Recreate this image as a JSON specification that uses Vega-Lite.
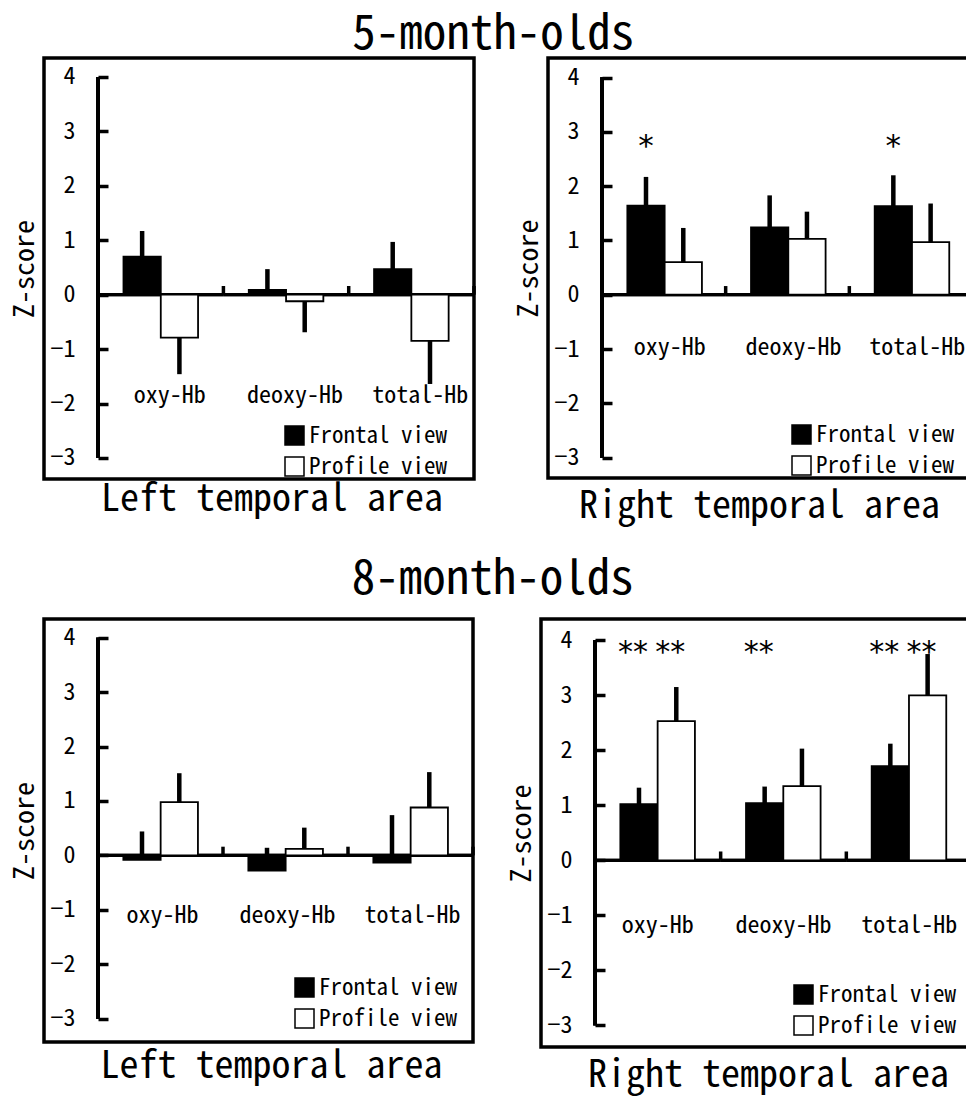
{
  "$schema": "https://vega.github.io/schema/vega-lite/v6.json",
  "background": "white",
  "padding": {"left": 9, "top": 11, "right": 0, "bottom": 0},
  "config": {
    "font": "Noto Sans Mono CJK JP, Noto Sans CJK JP, monospace",
    "view": {"stroke": "black", "strokeWidth": 3.5},
    "axisY": {"offset": -54, "domain": false, "grid": false, "tickSize": -10, "tickWidth": 3.5, "tickColor": "black", "labelFontSize": 24, "labelColor": "black", "labelPadding": 33, "titleFontSize": 28, "titleFontWeight": "normal", "titleColor": "black", "titlePadding": 10, "format": "d"},
    "axisX": {"domain": false, "ticks": false, "grid": false, "labelAngle": 0, "labelFontSize": 24, "labelColor": "black", "labelPadding": 0, "labelBaseline": "middle", "labelOffset": 9},
    "legend": {"symbolType": "square", "symbolSize": 361, "symbolStrokeColor": "black", "symbolStrokeWidth": 1.5, "labelFontSize": 23, "labelColor": "black", "labelOffset": 3, "rowPadding": 6, "padding": 0},
    "title": {"fontSize": 47, "fontWeight": "normal", "color": "black", "anchor": "middle"}
  },
  "datasets": {
    "hb": [
      {"age": "5-month-olds", "area": "Left", "measure": "oxy-Hb", "view": "Frontal view", "mean": 0.70, "err": 1.17, "sig": ""},
      {"age": "5-month-olds", "area": "Left", "measure": "oxy-Hb", "view": "Profile view", "mean": -0.79, "err": -1.46, "sig": ""},
      {"age": "5-month-olds", "area": "Left", "measure": "deoxy-Hb", "view": "Frontal view", "mean": 0.09, "err": 0.47, "sig": ""},
      {"age": "5-month-olds", "area": "Left", "measure": "deoxy-Hb", "view": "Profile view", "mean": -0.12, "err": -0.69, "sig": ""},
      {"age": "5-month-olds", "area": "Left", "measure": "total-Hb", "view": "Frontal view", "mean": 0.47, "err": 0.97, "sig": ""},
      {"age": "5-month-olds", "area": "Left", "measure": "total-Hb", "view": "Profile view", "mean": -0.85, "err": -1.64, "sig": ""},
      {"age": "5-month-olds", "area": "Right", "measure": "oxy-Hb", "view": "Frontal view", "mean": 1.64, "err": 2.17, "sig": "*"},
      {"age": "5-month-olds", "area": "Right", "measure": "oxy-Hb", "view": "Profile view", "mean": 0.60, "err": 1.23, "sig": ""},
      {"age": "5-month-olds", "area": "Right", "measure": "deoxy-Hb", "view": "Frontal view", "mean": 1.24, "err": 1.83, "sig": ""},
      {"age": "5-month-olds", "area": "Right", "measure": "deoxy-Hb", "view": "Profile view", "mean": 1.03, "err": 1.53, "sig": ""},
      {"age": "5-month-olds", "area": "Right", "measure": "total-Hb", "view": "Frontal view", "mean": 1.63, "err": 2.20, "sig": "*"},
      {"age": "5-month-olds", "area": "Right", "measure": "total-Hb", "view": "Profile view", "mean": 0.97, "err": 1.68, "sig": ""},
      {"age": "8-month-olds", "area": "Left", "measure": "oxy-Hb", "view": "Frontal view", "mean": -0.08, "err": 0.44, "sig": ""},
      {"age": "8-month-olds", "area": "Left", "measure": "oxy-Hb", "view": "Profile view", "mean": 0.98, "err": 1.51, "sig": ""},
      {"age": "8-month-olds", "area": "Left", "measure": "deoxy-Hb", "view": "Frontal view", "mean": -0.28, "err": 0.14, "sig": ""},
      {"age": "8-month-olds", "area": "Left", "measure": "deoxy-Hb", "view": "Profile view", "mean": 0.12, "err": 0.51, "sig": ""},
      {"age": "8-month-olds", "area": "Left", "measure": "total-Hb", "view": "Frontal view", "mean": -0.13, "err": 0.74, "sig": ""},
      {"age": "8-month-olds", "area": "Left", "measure": "total-Hb", "view": "Profile view", "mean": 0.88, "err": 1.53, "sig": ""},
      {"age": "8-month-olds", "area": "Right", "measure": "oxy-Hb", "view": "Frontal view", "mean": 1.02, "err": 1.32, "sig": "**"},
      {"age": "8-month-olds", "area": "Right", "measure": "oxy-Hb", "view": "Profile view", "mean": 2.53, "err": 3.15, "sig": "**"},
      {"age": "8-month-olds", "area": "Right", "measure": "deoxy-Hb", "view": "Frontal view", "mean": 1.04, "err": 1.34, "sig": "**"},
      {"age": "8-month-olds", "area": "Right", "measure": "deoxy-Hb", "view": "Profile view", "mean": 1.35, "err": 2.03, "sig": ""},
      {"age": "8-month-olds", "area": "Right", "measure": "total-Hb", "view": "Frontal view", "mean": 1.71, "err": 2.12, "sig": "**"},
      {"age": "8-month-olds", "area": "Right", "measure": "total-Hb", "view": "Profile view", "mean": 3.00, "err": 3.75, "sig": "**"}
    ]
  },
  "spacing": 28,
  "resolve": {"scale": {"fill": "independent"}, "legend": {"fill": "independent"}},
  "vconcat": [
    {
      "title": {"text": "5-month-olds", "offset": -3},
      "spacing": 35,
      "resolve": {"scale": {"fill": "independent"}, "legend": {"fill": "independent"}},
      "hconcat": [
        {
          "width": 430, "height": 421,
          "title": {"text": "Left temporal area", "orient": "bottom", "fontSize": 38, "dx": 13, "offset": 2},
          "data": {"name": "hb"},
          "transform": [{"filter": "datum.age === '5-month-olds' && datum.area === 'Left'"}],
          "layer": [
            {"mark": {"type": "bar", "color": "black"},
             "encoding": {"x": {"field": "measure", "type": "nominal", "sort": ["oxy-Hb", "deoxy-Hb", "total-Hb"]}, "y": {"datum": -0.03, "type": "quantitative"}, "y2": {"datum": 0.03}}},
            {"mark": {"type": "rule", "strokeWidth": 3.5, "color": "black"},
             "encoding": {"x": {"datum": "oxy-Hb", "type": "nominal", "bandPosition": 0}, "y": {"datum": -3, "type": "quantitative"}, "y2": {"datum": 4}}},
            {"transform": [{"filter": "datum.view === 'Frontal view'"}],
             "mark": {"type": "rule", "strokeWidth": 3.5, "color": "black"},
             "encoding": {"x": {"field": "measure", "type": "nominal", "sort": ["oxy-Hb", "deoxy-Hb", "total-Hb"], "bandPosition": 1}, "y": {"datum": 0, "type": "quantitative"}, "y2": {"datum": 0.16}}},
            {"mark": {"type": "bar", "stroke": "black", "strokeWidth": 1.8},
             "encoding": {
               "x": {"field": "measure", "type": "nominal", "sort": ["oxy-Hb", "deoxy-Hb", "total-Hb"], "scale": {"paddingInner": 0, "paddingOuter": 0.216, "align": 1}, "axis": {"title": null, "offset": -84}},
               "xOffset": {"field": "view", "type": "nominal", "scale": {"paddingInner": 0, "paddingOuter": 0.68}},
               "y": {"field": "mean", "type": "quantitative", "scale": {"domain": [-3.386, 4.349], "nice": false, "zero": false}, "axis": {"title": "Z-score", "values": [-3, -2, -1, 0, 1, 2, 3, 4]}},
               "y2": {"datum": 0},
               "fill": {"field": "view", "type": "nominal", "scale": {"domain": ["Frontal view", "Profile view"], "range": ["black", "white"]}, "legend": {"title": null, "orient": "none", "legendX": 239, "legendY": 366}}
             }},
            {"mark": {"type": "rule", "strokeWidth": 4.5, "color": "black"},
             "encoding": {"x": {"field": "measure", "type": "nominal", "sort": ["oxy-Hb", "deoxy-Hb", "total-Hb"]}, "xOffset": {"field": "view", "type": "nominal"}, "y": {"field": "mean", "type": "quantitative"}, "y2": {"field": "err"}}}
          ]
        },
        {
          "width": 425, "height": 420,
          "title": {"text": "Right temporal area", "orient": "bottom", "fontSize": 38, "dx": -1, "offset": 10},
          "data": {"name": "hb"},
          "transform": [{"filter": "datum.age === '5-month-olds' && datum.area === 'Right'"}],
          "layer": [
            {"mark": {"type": "bar", "color": "black"},
             "encoding": {"x": {"field": "measure", "type": "nominal", "sort": ["oxy-Hb", "deoxy-Hb", "total-Hb"]}, "y": {"datum": -0.03, "type": "quantitative"}, "y2": {"datum": 0.03}}},
            {"mark": {"type": "rule", "strokeWidth": 3.5, "color": "black"},
             "encoding": {"x": {"datum": "oxy-Hb", "type": "nominal", "bandPosition": 0}, "y": {"datum": -3, "type": "quantitative"}, "y2": {"datum": 4}}},
            {"transform": [{"filter": "datum.view === 'Frontal view'"}],
             "mark": {"type": "rule", "strokeWidth": 3.5, "color": "black"},
             "encoding": {"x": {"field": "measure", "type": "nominal", "sort": ["oxy-Hb", "deoxy-Hb", "total-Hb"], "bandPosition": 1}, "y": {"datum": 0, "type": "quantitative"}, "y2": {"datum": 0.16}}},
            {"mark": {"type": "bar", "stroke": "black", "strokeWidth": 1.8},
             "encoding": {
               "x": {"field": "measure", "type": "nominal", "sort": ["oxy-Hb", "deoxy-Hb", "total-Hb"], "scale": {"paddingInner": 0, "paddingOuter": 0.2183, "align": 1}, "axis": {"title": null, "offset": -131, "labelOffset": 6}},
               "xOffset": {"field": "view", "type": "nominal", "scale": {"paddingInner": 0, "paddingOuter": 0.66}},
               "y": {"field": "mean", "type": "quantitative", "scale": {"domain": [-3.375, 4.36], "nice": false, "zero": false}, "axis": {"title": "Z-score", "values": [-3, -2, -1, 0, 1, 2, 3, 4]}},
               "y2": {"datum": 0},
               "fill": {"field": "view", "type": "nominal", "scale": {"domain": ["Frontal view", "Profile view"], "range": ["black", "white"]}, "legend": {"title": null, "orient": "none", "legendX": 242, "legendY": 365}}
             }},
            {"mark": {"type": "rule", "strokeWidth": 4.5, "color": "black"},
             "encoding": {"x": {"field": "measure", "type": "nominal", "sort": ["oxy-Hb", "deoxy-Hb", "total-Hb"]}, "xOffset": {"field": "view", "type": "nominal"}, "y": {"field": "mean", "type": "quantitative"}, "y2": {"field": "err"}}},
            {"mark": {"type": "text", "font": "DejaVu Sans", "fontSize": 31, "baseline": "alphabetic", "color": "black"},
             "encoding": {"x": {"field": "measure", "type": "nominal", "sort": ["oxy-Hb", "deoxy-Hb", "total-Hb"]}, "xOffset": {"field": "view", "type": "nominal"}, "y": {"datum": 2.55, "type": "quantitative"}, "text": {"field": "sig"}}}
          ]
        }
      ]
    },
    {
      "title": {"text": "8-month-olds", "offset": 13},
      "spacing": 29,
      "resolve": {"scale": {"fill": "independent"}, "legend": {"fill": "independent"}},
      "hconcat": [
        {
          "width": 429, "height": 423,
          "title": {"text": "Left temporal area", "orient": "bottom", "fontSize": 38, "dx": 13, "offset": 6},
          "data": {"name": "hb"},
          "transform": [{"filter": "datum.age === '8-month-olds' && datum.area === 'Left'"}],
          "layer": [
            {"mark": {"type": "bar", "color": "black"},
             "encoding": {"x": {"field": "measure", "type": "nominal", "sort": ["oxy-Hb", "deoxy-Hb", "total-Hb"]}, "y": {"datum": -0.03, "type": "quantitative"}, "y2": {"datum": 0.03}}},
            {"mark": {"type": "rule", "strokeWidth": 3.5, "color": "black"},
             "encoding": {"x": {"datum": "oxy-Hb", "type": "nominal", "bandPosition": 0}, "y": {"datum": -3, "type": "quantitative"}, "y2": {"datum": 4}}},
            {"transform": [{"filter": "datum.view === 'Frontal view'"}],
             "mark": {"type": "rule", "strokeWidth": 3.5, "color": "black"},
             "encoding": {"x": {"field": "measure", "type": "nominal", "sort": ["oxy-Hb", "deoxy-Hb", "total-Hb"], "bandPosition": 1}, "y": {"datum": 0, "type": "quantitative"}, "y2": {"datum": 0.16}}},
            {"mark": {"type": "bar", "stroke": "black", "strokeWidth": 1.8},
             "encoding": {
               "x": {"field": "measure", "type": "nominal", "sort": ["oxy-Hb", "deoxy-Hb", "total-Hb"], "scale": {"paddingInner": 0, "paddingOuter": 0.216, "align": 1}, "axis": {"title": null, "offset": -127, "labelOffset": 2}},
               "xOffset": {"field": "view", "type": "nominal", "scale": {"paddingInner": 0, "paddingOuter": 0.68}},
               "y": {"field": "mean", "type": "quantitative", "scale": {"domain": [-3.428, 4.343], "nice": false, "zero": false}, "axis": {"title": "Z-score", "values": [-3, -2, -1, 0, 1, 2, 3, 4]}},
               "y2": {"datum": 0},
               "fill": {"field": "view", "type": "nominal", "scale": {"domain": ["Frontal view", "Profile view"], "range": ["black", "white"]}, "legend": {"title": null, "orient": "none", "legendX": 249, "legendY": 357}}
             }},
            {"mark": {"type": "rule", "strokeWidth": 4.5, "color": "black"},
             "encoding": {"x": {"field": "measure", "type": "nominal", "sort": ["oxy-Hb", "deoxy-Hb", "total-Hb"]}, "xOffset": {"field": "view", "type": "nominal"}, "y": {"field": "mean", "type": "quantitative"}, "y2": {"field": "err"}}}
          ]
        },
        {
          "width": 431, "height": 428,
          "title": {"text": "Right temporal area", "orient": "bottom", "fontSize": 38, "dx": 12, "offset": 10},
          "data": {"name": "hb"},
          "transform": [{"filter": "datum.age === '8-month-olds' && datum.area === 'Right'"}],
          "layer": [
            {"mark": {"type": "bar", "color": "black"},
             "encoding": {"x": {"field": "measure", "type": "nominal", "sort": ["oxy-Hb", "deoxy-Hb", "total-Hb"]}, "y": {"datum": -0.03, "type": "quantitative"}, "y2": {"datum": 0.03}}},
            {"mark": {"type": "rule", "strokeWidth": 3.5, "color": "black"},
             "encoding": {"x": {"datum": "oxy-Hb", "type": "nominal", "bandPosition": 0}, "y": {"datum": -3, "type": "quantitative"}, "y2": {"datum": 4}}},
            {"transform": [{"filter": "datum.view === 'Frontal view'"}],
             "mark": {"type": "rule", "strokeWidth": 3.5, "color": "black"},
             "encoding": {"x": {"field": "measure", "type": "nominal", "sort": ["oxy-Hb", "deoxy-Hb", "total-Hb"], "bandPosition": 1}, "y": {"datum": 0, "type": "quantitative"}, "y2": {"datum": 0.16}}},
            {"mark": {"type": "bar", "stroke": "black", "strokeWidth": 1.8},
             "encoding": {
               "x": {"field": "measure", "type": "nominal", "sort": ["oxy-Hb", "deoxy-Hb", "total-Hb"], "scale": {"paddingInner": 0, "paddingOuter": 0.2148, "align": 1}, "axis": {"title": null, "offset": -122, "labelOffset": 0}},
               "xOffset": {"field": "view", "type": "nominal", "scale": {"paddingInner": 0, "paddingOuter": 0.68}},
               "y": {"field": "mean", "type": "quantitative", "scale": {"domain": [-3.395, 4.387], "nice": false, "zero": false}, "axis": {"title": "Z-score", "values": [-3, -2, -1, 0, 1, 2, 3, 4]}},
               "y2": {"datum": 0},
               "fill": {"field": "view", "type": "nominal", "scale": {"domain": ["Frontal view", "Profile view"], "range": ["black", "white"]}, "legend": {"title": null, "orient": "none", "legendX": 251, "legendY": 364}}
             }},
            {"mark": {"type": "rule", "strokeWidth": 4.5, "color": "black"},
             "encoding": {"x": {"field": "measure", "type": "nominal", "sort": ["oxy-Hb", "deoxy-Hb", "total-Hb"]}, "xOffset": {"field": "view", "type": "nominal"}, "y": {"field": "mean", "type": "quantitative"}, "y2": {"field": "err"}}},
            {"mark": {"type": "text", "font": "DejaVu Sans", "fontSize": 30, "baseline": "alphabetic", "color": "black", "dx": -6},
             "encoding": {"x": {"field": "measure", "type": "nominal", "sort": ["oxy-Hb", "deoxy-Hb", "total-Hb"]}, "xOffset": {"field": "view", "type": "nominal"}, "y": {"datum": 3.6, "type": "quantitative"}, "text": {"field": "sig"}}}
          ]
        }
      ]
    }
  ]
}
